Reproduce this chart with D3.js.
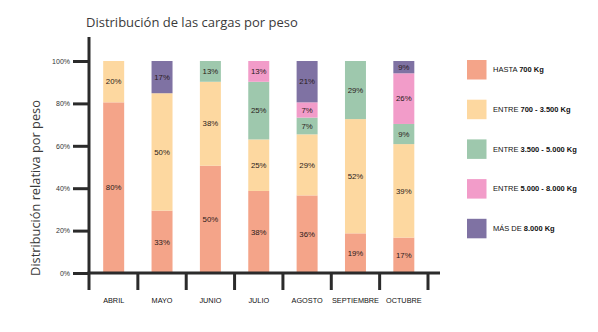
<!DOCTYPE html>
<html><head><meta charset="utf-8">
<script src="https://cdn.jsdelivr.net/npm/d3@7"></script>
<style>
body{margin:0;background:#fff;}
svg{display:block;}
</style></head>
<body>
<svg id="chart" width="598" height="332"></svg>
<script>
// ---- data ----
const months = ["ABRIL","MAYO","JUNIO","JULIO","AGOSTO","SEPTIEMBRE","OCTUBRE"];
const seriesNames = ["HASTA 700 Kg","ENTRE 700 - 3.500 Kg","ENTRE 3.500 - 5.000 Kg","ENTRE 5.000 - 8.000 Kg","MÁS DE 8.000 Kg"];
const legendPlain = ["HASTA ","ENTRE ","ENTRE ","ENTRE ","MÁS DE "];
const legendBold  = ["700 Kg","700 - 3.500 Kg","3.500 - 5.000 Kg","5.000 - 8.000 Kg","8.000 Kg"];
// drawn segment heights (% of bar), per series, in month order
const hasta700    = [80.5, 29.4, 50.6, 38.7, 36.6, 18.7, 16.7];
const de700a3500  = [19.5, 55.4, 39.6, 24.3, 28.8, 53.9, 44.1];
const de3500a5000 = [0,    0,    9.8,  27.2, 7.9,  27.4, 9.5];
const de5000a8000 = [0,    0,    0,    9.8,  7.2,  0,    23.9];
const mas8000     = [0,    15.2, 0,    0,    19.5, 0,    5.8];
// printed labels
const lblHasta700    = ["80%","33%","50%","38%","36%","19%","17%"];
const lbl700a3500    = ["20%","50%","38%","25%","29%","52%","39%"];
const lbl3500a5000   = ["","","13%","25%","7%","29%","9%"];
const lbl5000a8000   = ["","","","13%","7%","","26%"];
const lblMas8000     = ["","17%","","","21%","","9%"];
const yTicks = [0,20,40,60,80,100];
const colors = ["#F4A489","#FDD8A0","#9EC8AD","#F29CC9","#7F72A3"];

const values = [hasta700, de700a3500, de3500a5000, de5000a8000, mas8000];
const labels = [lblHasta700, lbl700a3500, lbl3500a5000, lbl5000a8000, lblMas8000];

const svg = d3.select("#chart");
const axisColor = "#2b2b2b";

const x = d3.scaleBand().domain(months).range([89.5, 428]).paddingInner(0.566).paddingOuter(0.283);
const y = d3.scaleLinear().domain([0,100]).range([273, 61]);

// title
svg.append("text").attr("x", 86).attr("y", 27)
  .attr("font-family", "'Open Sans', sans-serif").attr("font-size", 13)
  .attr("fill", "#3a3a3a").text("Distribución de las cargas por peso");

// y label
svg.append("text").attr("transform", "translate(40,188) rotate(-90)")
  .attr("text-anchor", "middle")
  .attr("font-family", "'Open Sans', sans-serif").attr("font-size", 12.8)
  .attr("fill", "#3a3a3a").text("Distribución relativa por peso");

// bars
const table = months.map((m, i) => {
  const row = {month: m};
  seriesNames.forEach((s, k) => row[s] = values[k][i]);
  return row;
});
const stacked = d3.stack().keys(seriesNames)(table);
stacked.forEach((layer, k) => {
  const g = svg.append("g");
  layer.forEach((d, i) => {
    if (d[1] - d[0] <= 0) return;
    g.append("rect")
      .attr("x", x(months[i])).attr("width", x.bandwidth())
      .attr("y", y(d[1])).attr("height", y(d[0]) - y(d[1]))
      .attr("fill", colors[k]);
    const t = labels[k][i];
    if (t) {
      g.append("text")
        .attr("x", x(months[i]) + x.bandwidth()/2)
        .attr("y", (y(d[0]) + y(d[1]))/2)
        .attr("dy", "0.35em").attr("text-anchor", "middle")
        .attr("font-family", "'Liberation Sans Narrow', 'Liberation Sans', sans-serif")
        .attr("font-size", 7.8).attr("fill", "#2a1a1a").text(t);
    }
  });
});

// y axis
const yAxis = svg.append("g").attr("transform", "translate(89,0)")
  .call(d3.axisLeft(y).tickValues(yTicks).tickSize(16).tickPadding(3).tickFormat(d => d + "%"));
yAxis.select(".domain").remove();
yAxis.selectAll(".tick line").attr("stroke", axisColor).attr("stroke-width", 3);
yAxis.selectAll(".tick text").attr("font-family", "'Liberation Sans', sans-serif")
  .attr("font-size", 7).attr("fill", "#333");
svg.append("line").attr("x1", 89).attr("x2", 89).attr("y1", 37).attr("y2", 290)
  .attr("stroke", axisColor).attr("stroke-width", 3);

// x axis
svg.append("line").attr("x1", 87.5).attr("x2", 440).attr("y1", 273).attr("y2", 273)
  .attr("stroke", axisColor).attr("stroke-width", 3);
const gap = (x.step() - x.bandwidth())/2;
const bounds = months.map(m => x(m) - gap).concat([x(months[months.length-1]) + x.bandwidth() + gap]);
svg.append("g").selectAll("line").data(bounds.slice(1)).join("line")
  .attr("x1", d => d).attr("x2", d => d).attr("y1", 273).attr("y2", 290)
  .attr("stroke", axisColor).attr("stroke-width", 3);
svg.append("g").selectAll("text").data(months).join("text")
  .attr("x", d => x(d) + x.bandwidth()/2).attr("y", 303)
  .attr("text-anchor", "middle")
  .attr("font-family", "'Liberation Sans Narrow', 'Liberation Sans', sans-serif")
  .attr("font-size", 7.3).attr("fill", "#111").text(d => d);

// legend
const lg = svg.append("g");
seriesNames.forEach((s, k) => {
  const yy = 60 + k * 39.7;
  lg.append("rect").attr("x", 467).attr("y", yy).attr("width", 19.5).attr("height", 19.5).attr("fill", colors[k]);
  const t = lg.append("text").attr("x", 493).attr("y", yy + 9.75).attr("dy", "0.35em")
    .attr("font-family", "'Liberation Sans Narrow', 'Liberation Sans', sans-serif")
    .attr("font-size", 7.5).attr("fill", "#111");
  t.append("tspan").text(legendPlain[k]);
  t.append("tspan").attr("font-weight", "bold").text(legendBold[k]);
});
</script>
</body></html>
